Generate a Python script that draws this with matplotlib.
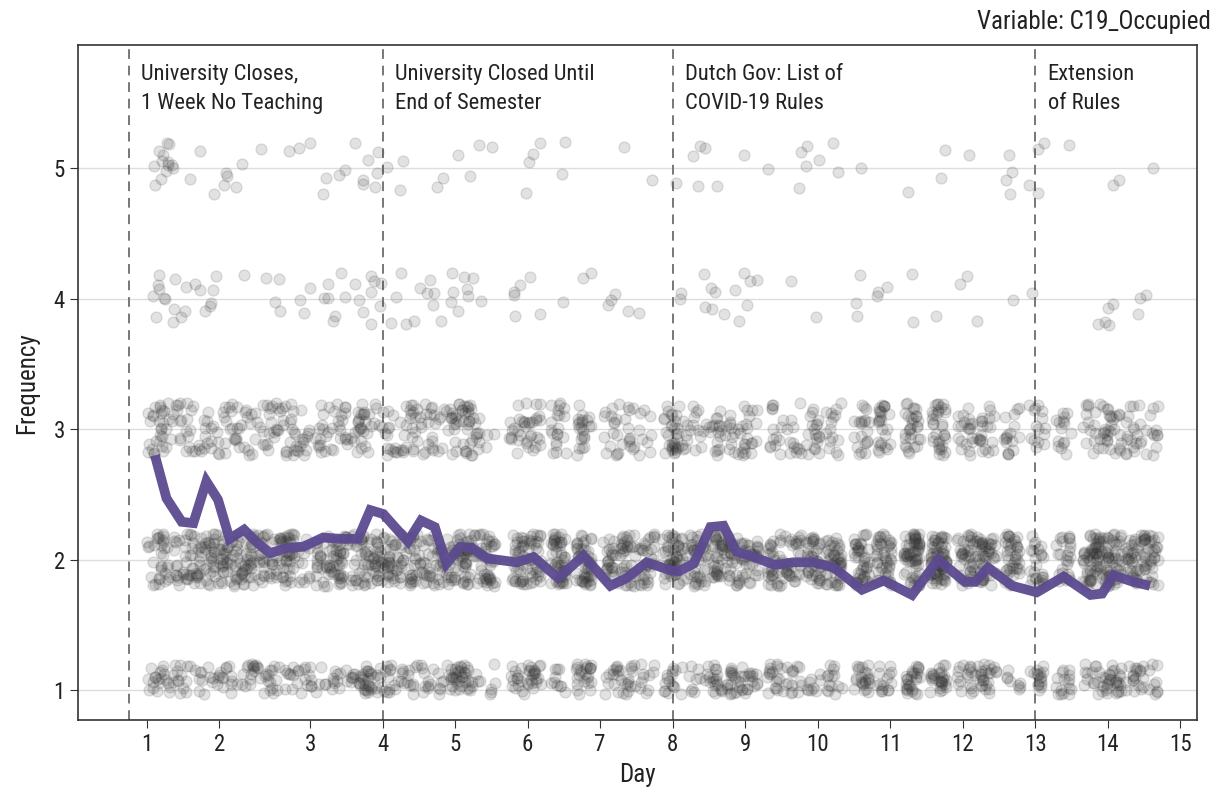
import numpy as np
import matplotlib
matplotlib.use("Agg")
import matplotlib.pyplot as plt

plt.rcParams['font.family'] = ['Liberation Sans Narrow', 'Roboto Condensed', 'Roboto', 'DejaVu Sans']

# tick positions of each day on the time axis (day 2 is a bit longer)
day_labels = [str(d) for d in range(1, 16)]
day_ticks = [1, 2, 3.25, 4.25, 5.25, 6.25, 7.25, 8.25, 9.25, 10.25, 11.25, 12.25, 13.25, 14.25, 15.25]

# mean response per measurement moment (purple line)
beep_x = [1.11, 1.27, 1.48, 1.64, 1.82, 1.98, 2.14, 2.34, 2.52, 2.70, 2.93, 3.16, 3.43, 3.66,
          3.91, 4.08, 4.26, 4.42, 4.60, 4.78, 4.97, 5.13, 5.32, 5.48, 5.69, 6.10, 6.33, 6.67,
          7.02, 7.39, 7.62, 7.89, 8.21, 8.33, 8.54, 8.77, 8.95, 9.13, 9.32, 9.66, 9.91, 10.19,
          10.47, 10.86, 11.16, 11.55, 11.91, 12.28, 12.42, 12.60, 12.93, 13.27, 13.64, 14.01,
          14.17, 14.33, 14.60, 14.83]
beep_mean = [2.80, 2.47, 2.29, 2.28, 2.60, 2.46, 2.16, 2.23, 2.13, 2.05, 2.09, 2.10, 2.17, 2.16,
             2.16, 2.38, 2.35, 2.25, 2.14, 2.30, 2.25, 1.97, 2.10, 2.09, 2.01, 1.98, 2.02, 1.86,
             2.03, 1.80, 1.86, 1.98, 1.92, 1.91, 1.97, 2.25, 2.26, 2.06, 2.03, 1.96, 1.98, 1.98,
             1.94, 1.77, 1.84, 1.73, 2.00, 1.83, 1.83, 1.94, 1.80, 1.75, 1.87, 1.73, 1.74, 1.88,
             1.83, 1.80]

# number of responses per day (days 1..14) for each answer level
levels = [1, 2, 3, 4, 5]
counts = {
    1: [50, 62, 50, 55, 52, 55, 50, 55, 55, 52, 55, 50, 52, 50],
    2: [125, 155, 120, 135, 130, 135, 125, 140, 135, 135, 135, 130, 130, 115],
    3: [72, 80, 62, 68, 62, 62, 56, 65, 62, 60, 62, 58, 55, 50],
    4: [20, 8, 14, 16, 10, 5, 5, 10, 6, 6, 3, 4, 4, 5],
    5: [18, 7, 10, 6, 4, 6, 2, 6, 7, 3, 3, 5, 5, 3],
}

event_x = [0.75, 4.25, 8.25, 13.25]
event_text = ["University Closes,\n1 Week No Teaching", "University Closed Until\nEnd of Semester",
              "Dutch Gov: List of\nCOVID-19 Rules", "Extension\nof Rules"]

fig = plt.figure(figsize=(12.19, 7.95), dpi=100)
ax = fig.add_axes([0.064, 0.094, 0.918, 0.849])


def jit(k, seed):
    # deterministic hash in [0, 1) used only to spread overlapping markers
    return (np.sin(k * 12.9898 + seed * 78.233) * 43758.5453) % 1


bx = np.array(beep_x)
px, py = [], []
k = 0
for lev in levels:
    lo, hi = (-0.03, 0.2) if lev == 1 else (-0.2, 0.2)
    for d, n in enumerate(counts[lev]):
        cols = bx[(bx >= day_ticks[d]) & (bx < day_ticks[d + 1])]
        for i in range(n):
            k += 1
            c = cols[int(jit(k, 3) * len(cols))]
            px.append(c + (jit(k, 1) - 0.5) * 0.22)
            py.append(lev + lo + jit(k, 2) * (hi - lo))
ax.scatter(px, py, s=62, color='#333333', alpha=0.14, linewidths=1.0, zorder=2)

ax.plot(beep_x, beep_mean, color='#5c4a8f', lw=7, alpha=0.95, zorder=3,
        solid_joinstyle='miter', solid_capstyle='butt')

for x, t in zip(event_x, event_text):
    ax.axvline(x, color='#777777', lw=1.4, ls=(0, (5, 3.5)), zorder=1)
    ax.text(x + 0.17, 5.80, t, fontsize=16.2, va='top', ha='left', color='#222222',
            linespacing=1.5)

ax.set_xlim(0.05, 15.48)
ax.set_ylim(0.77, 5.94)
ax.set_xticks(day_ticks)
ax.set_xticklabels(day_labels)
ax.set_yticks(levels)
ax.yaxis.grid(True, color='#dddddd', lw=1.0, zorder=0)
ax.set_axisbelow(True)
ax.tick_params(labelsize=16.5, length=6, color='#333333', labelcolor='#222222')
for sp in ax.spines.values():
    sp.set_color('#333333')
    sp.set_linewidth(1.2)
ax.set_xlabel("Day", fontsize=18, color='#222222', labelpad=5)
ax.set_ylabel("Frequency", fontsize=18, color='#222222', labelpad=10)
fig.text(0.993, 0.972, "Variable: C19_Occupied", fontsize=18, ha='right', va='center',
         color='#222222')

fig.savefig("out.png", dpi=100)
